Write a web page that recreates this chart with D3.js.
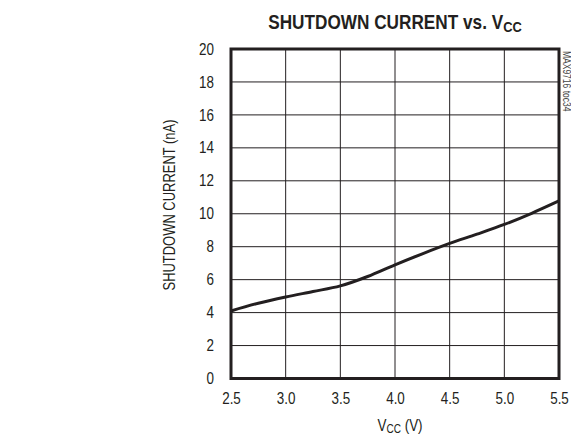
<!DOCTYPE html>
<html><head><meta charset="utf-8">
<script src="https://cdn.jsdelivr.net/npm/d3@7"></script>
<style>
body{margin:0;background:#fff;}
text{font-family:"Liberation Sans",Arial,sans-serif;fill:#231f20;}
</style></head><body>
<svg id="c" width="571" height="440"></svg>
<script>
const vcc = [2.5, 2.75, 3.0, 3.25, 3.5, 3.75, 4.0, 4.25, 4.5, 4.75, 5.0, 5.25, 5.5];
const current = [4.1, 4.57, 4.95, 5.28, 5.62, 6.19, 6.9, 7.57, 8.2, 8.76, 9.35, 10.03, 10.78];
const xTicks = [2.5, 3.0, 3.5, 4.0, 4.5, 5.0, 5.5];
const yTicks = [0, 2, 4, 6, 8, 10, 12, 14, 16, 18, 20];

const svg = d3.select("#c");
const L = 231, R = 559, T = 49, B = 378.5;
const SX = 0.84; // condensed look
const x = d3.scaleLinear().domain([2.5, 5.5]).range([L, R]);
const y = d3.scaleLinear().domain([0, 20]).range([B, T]);

// grid
svg.append("g").selectAll("line").data(xTicks.slice(1, -1)).join("line")
  .attr("x1", d => x(d)).attr("x2", d => x(d)).attr("y1", T).attr("y2", B)
  .attr("stroke", "#231f20").attr("stroke-width", 1);
svg.append("g").selectAll("line").data(yTicks.slice(1, -1)).join("line")
  .attr("y1", d => y(d)).attr("y2", d => y(d)).attr("x1", L).attr("x2", R)
  .attr("stroke", "#231f20").attr("stroke-width", 1);

// axes labels via d3 axes
const xAxis = svg.append("g").attr("transform", `translate(0,${B})`)
  .call(d3.axisBottom(x).tickValues(xTicks).tickFormat(d3.format(".1f")).tickSize(0).tickPadding(14));
xAxis.select(".domain").remove();
xAxis.selectAll("text").attr("font-size", 16).attr("font-family", null).attr("fill", "#231f20")
  .attr("transform", `scale(${SX},1)`);

const yPad = 17;
const yAxis = svg.append("g").attr("transform", `translate(${L},0)`)
  .call(d3.axisLeft(y).tickValues(yTicks).tickSize(0).tickPadding(yPad));
yAxis.select(".domain").remove();
yAxis.selectAll("text").attr("font-size", 16).attr("font-family", null).attr("fill", "#231f20")
  .attr("x", -yPad / SX).attr("transform", `scale(${SX},1)`);

// curve
svg.append("path").datum(vcc.map((v, i) => [v, current[i]]))
  .attr("d", d3.line().x(d => x(d[0])).y(d => y(d[1])).curve(d3.curveMonotoneX))
  .attr("fill", "none").attr("stroke", "#231f20").attr("stroke-width", 3);

// frame
svg.append("rect").attr("x", L).attr("y", T).attr("width", R - L).attr("height", B - T)
  .attr("fill", "none").attr("stroke", "#231f20").attr("stroke-width", 3);

// title
const title = svg.append("text").attr("transform", `translate(395,29) scale(0.86,1)`).attr("text-anchor", "middle")
  .attr("font-size", 20).attr("font-weight", "bold");
title.append("tspan").text("SHUTDOWN CURRENT vs. V");
title.append("tspan").text("CC").attr("font-size", 15).attr("dy", 3);

// x label
const xl = svg.append("text").attr("transform", `translate(400,431) scale(${SX},1)`).attr("text-anchor", "middle").attr("font-size", 16);
xl.append("tspan").text("V");
xl.append("tspan").text("CC").attr("font-size", 12).attr("dy", 2);
xl.append("tspan").text(" (V)").attr("dy", -2);

// y label
svg.append("text").attr("transform", `translate(175,205) rotate(-90) scale(0.81,1)`)
  .attr("text-anchor", "middle").attr("font-size", 16).text("SHUTDOWN CURRENT (nA)");

// watermark
svg.append("text").attr("transform", `translate(563,51) rotate(90) scale(0.85,1)`)
  .attr("text-anchor", "start").attr("font-size", 10).style("fill", "#444")
  .text("MAX9716 toc34");
</script></body></html>
